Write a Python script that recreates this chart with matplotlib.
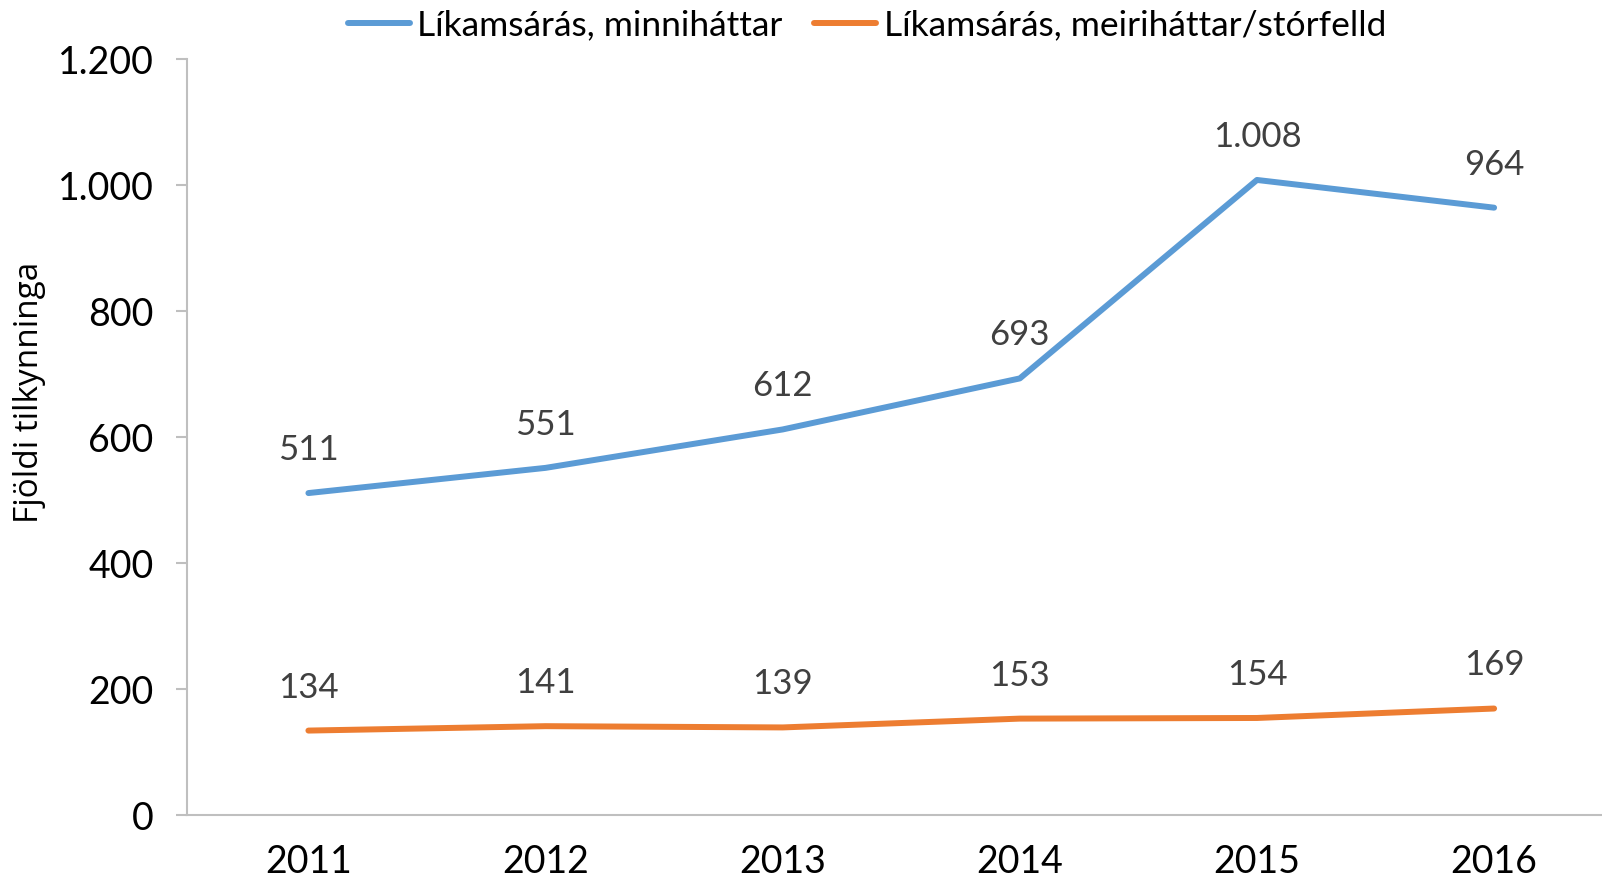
import matplotlib
matplotlib.use("Agg")
import matplotlib.pyplot as plt

years = ["2011", "2012", "2013", "2014", "2015", "2016"]
minor_assault = [511, 551, 612, 693, 1008, 964]
major_assault = [134, 141, 139, 153, 154, 169]
series_names = ["Líkamsárás, minniháttar", "Líkamsárás, meiriháttar/stórfelld"]
y_ticks = [0, 200, 400, 600, 800, 1000, 1200]
y_tick_labels = ["0", "200", "400", "600", "800", "1.000", "1.200"]

BLUE = "#5B9BD5"
ORANGE = "#ED7D31"
FONT = ["Lato", "DejaVu Sans"]
WIDE = ["Open Sans", "DejaVu Sans"]


def fmt(v):
    return f"{v:,}".replace(",", ".")


fig = plt.figure(figsize=(16.02, 8.81), dpi=100)
ax = fig.add_axes([187 / 1602, 66 / 881, 1415 / 1602, 756 / 881])

x = range(len(years))
for vals, color, name in [(minor_assault, BLUE, series_names[0]),
                          (major_assault, ORANGE, series_names[1])]:
    ax.plot(x, vals, color=color, linewidth=4.3, solid_capstyle="round",
            solid_joinstyle="round", label=name)
    for xi, v in zip(x, vals):
        ax.annotate(fmt(v), (xi, v), xytext=(0, 31), textcoords="offset points",
                    ha="center", va="center", fontsize=25, color="#404040",
                    family=FONT)

ax.set_xlim(-0.512, 5.455)
ax.set_ylim(0, 1200)
ax.set_yticks(y_ticks)
ax.set_yticklabels(y_tick_labels, family=FONT, fontsize=27)
ax.set_xticks(list(x))
ax.set_xticklabels(years, family=FONT, fontsize=27)

for side in ["top", "right"]:
    ax.spines[side].set_visible(False)
for side in ["left", "bottom"]:
    ax.spines[side].set_color("#BFBFBF")
    ax.spines[side].set_linewidth(1.5)
ax.tick_params(axis="y", length=8, width=1.5, color="#BFBFBF", pad=16)
ax.tick_params(axis="x", length=0, pad=21)

fig.text(30 / 1602, 1 - 392 / 881, "Fjöldi tilkynninga", rotation=90,
         ha="center", va="center", fontsize=24, family=WIDE)

leg = fig.legend(loc="center", bbox_to_anchor=(867 / 1602, 1 - 25 / 881),
                 ncol=2, frameon=False, handlelength=1.75, handletextpad=0.2,
                 columnspacing=0.9, prop={"family": FONT, "size": 25.5})

fig.savefig("out.png", dpi=100)
